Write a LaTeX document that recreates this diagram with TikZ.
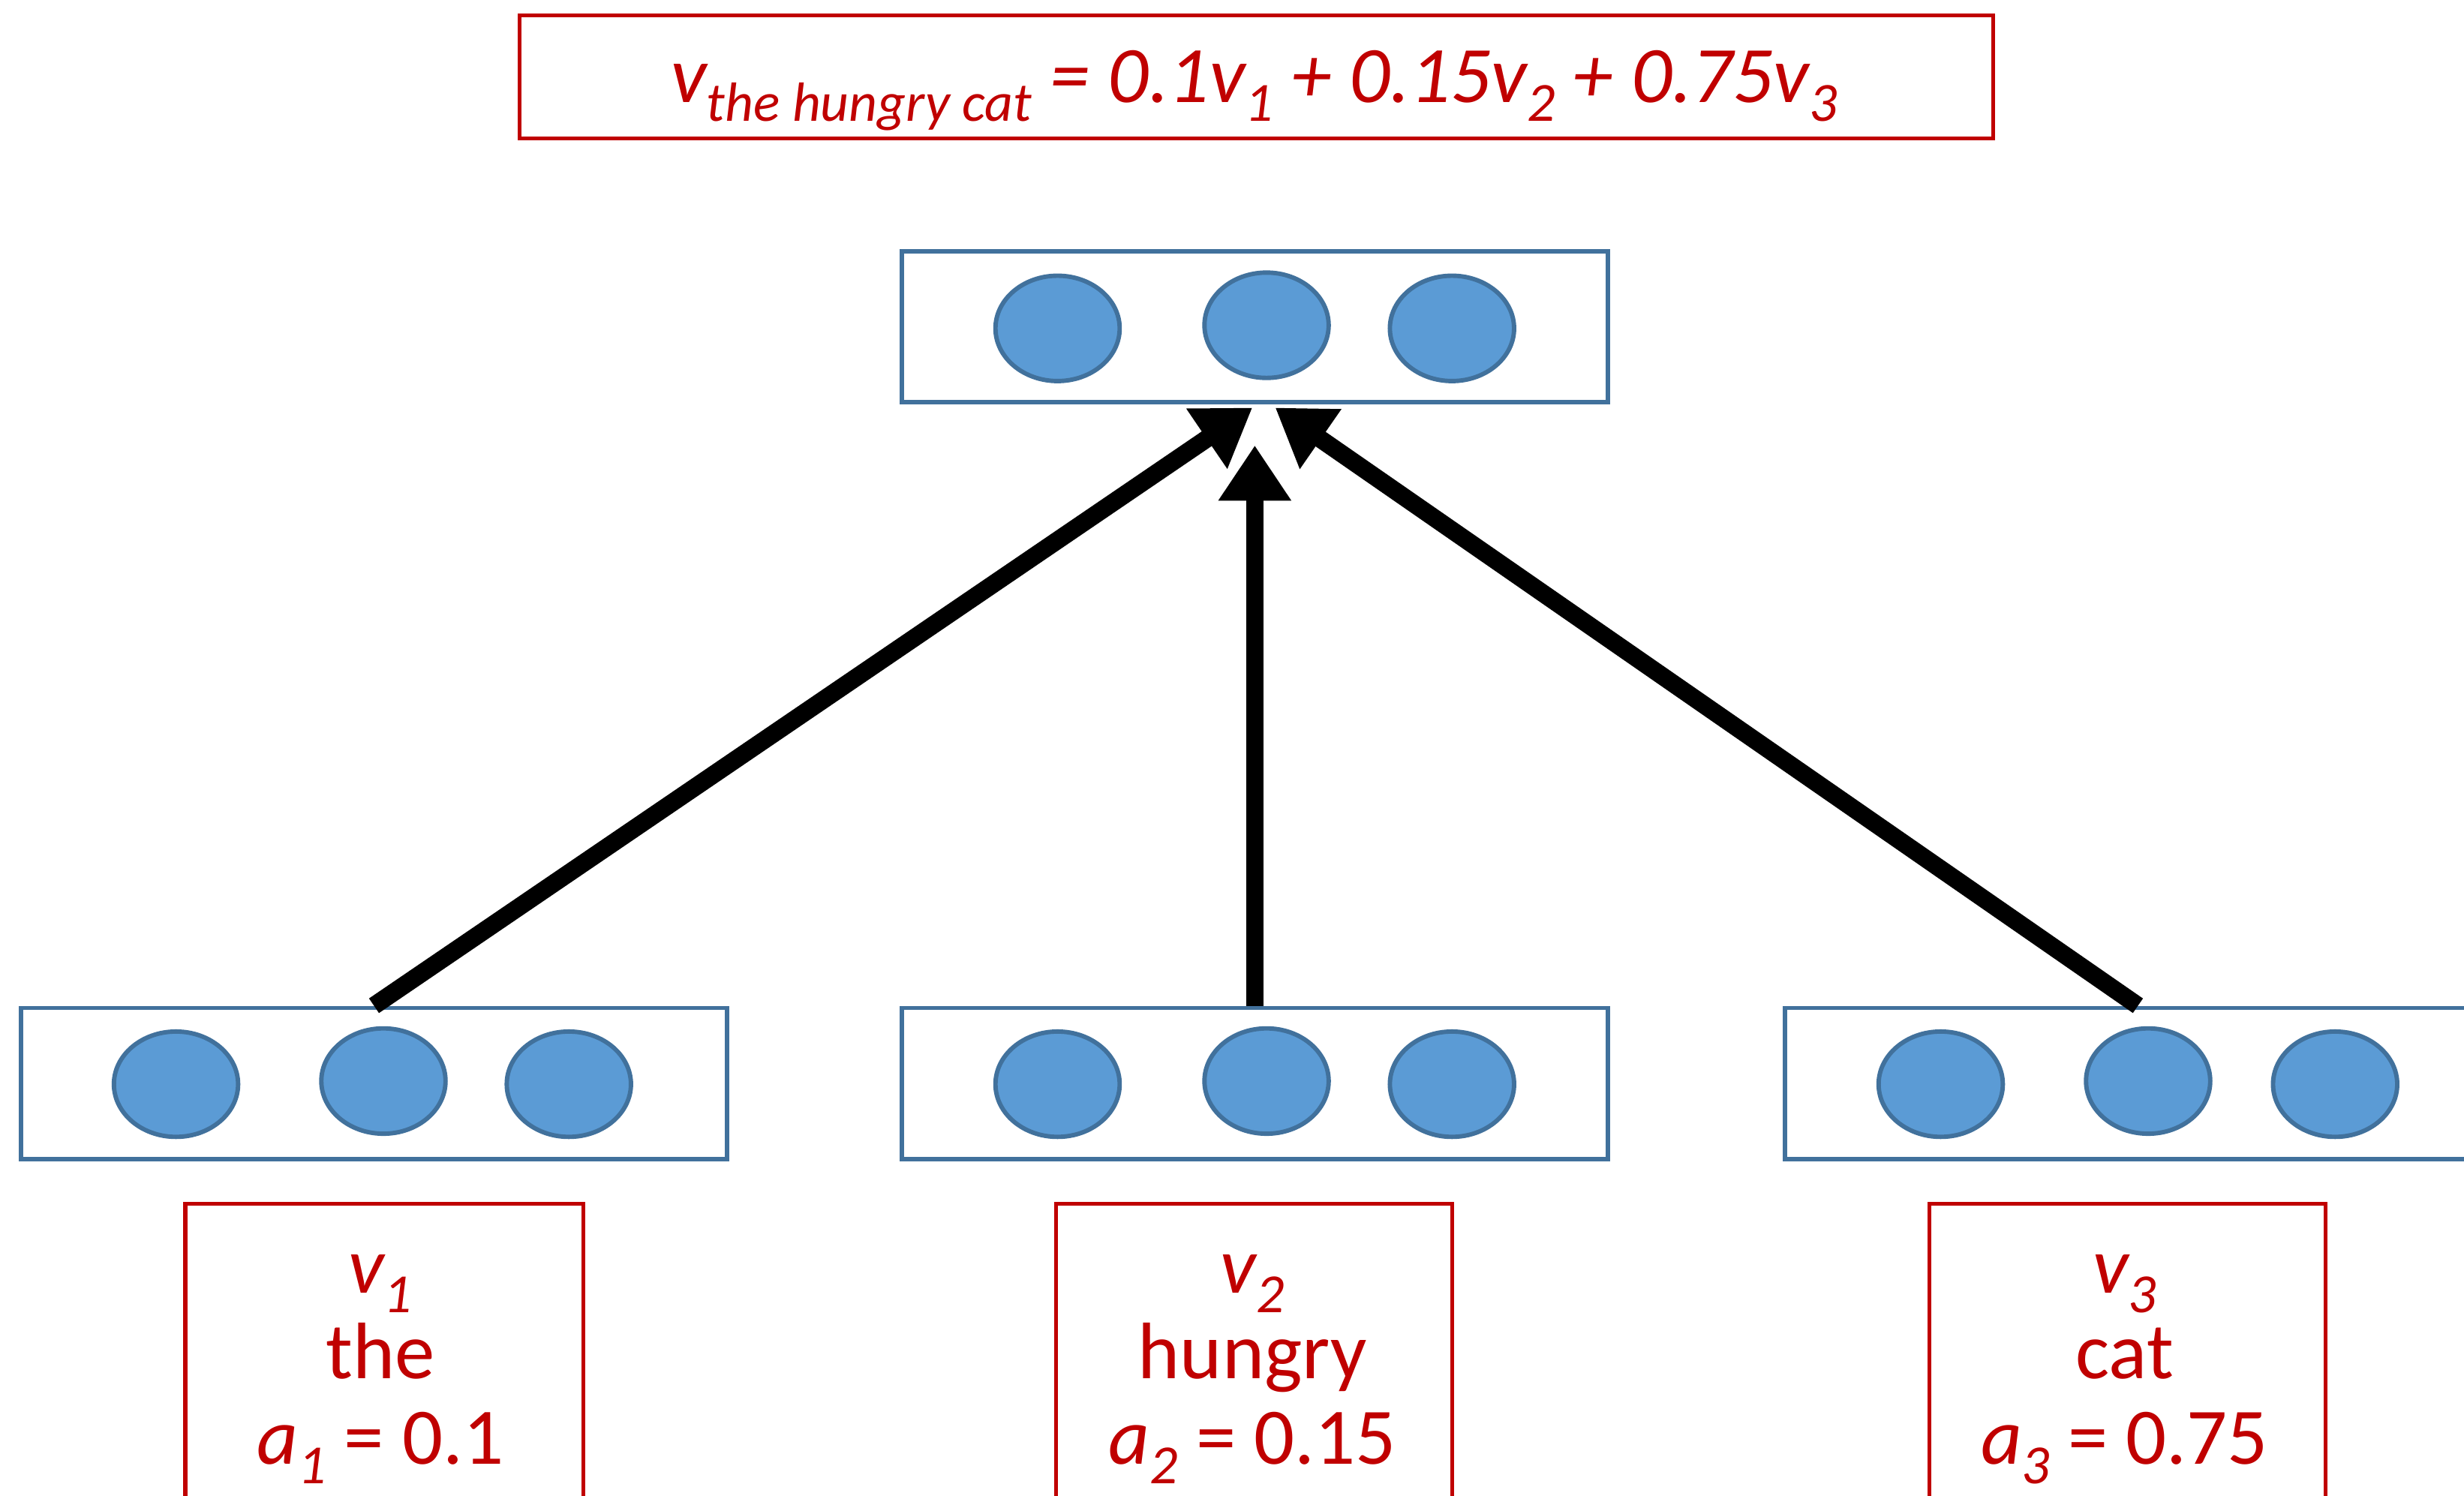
\documentclass[tikz,border=0pt]{standalone}
\usepackage{fontspec}
\setmainfont{Carlito}
\usetikzlibrary{arrows.meta,shapes.geometric,calc}
\definecolor{wred}{HTML}{C00000}
\definecolor{nfill}{HTML}{5B9BD5}
\definecolor{nedge}{HTML}{41719C}
\newcommand\lo[1]{\raisebox{-0.5ex}{\fontsize{10pt}{10pt}\selectfont #1}}
\begin{document}
\begin{tikzpicture}[x=0.01cm,y=-0.01cm,
  layerbox/.style={draw=nedge,line width=0.8pt,minimum width=4.49cm,minimum height=0.96cm,inner sep=0pt},
  unit/.style={ellipse,draw=nedge,fill=nfill,line width=0.8pt,minimum width=0.79cm,minimum height=0.67cm,inner sep=0pt},
  redbox/.style={draw=wred,line width=0.7pt,inner sep=0pt},
  lbl/.style={text=wred,font=\fontsize{14.5pt}{15.5pt}\selectfont,align=center,inner sep=0pt},
  arr/.style={line width=3.2pt,-{Triangle[length=10pt,width=12.5pt]}}]
\clip (0,0) rectangle (1568,952);
\fill[white] (0,0) rectangle (1568,952);

% weighted sum
\node[redbox,minimum width=9.37cm,minimum height=0.78cm] (F) at (799.5,49) {};
\node[lbl,anchor=base] (Ftxt) at (798,65) {\itshape v\lo{the hungry cat} = 0.1v\lo{1} + 0.15v\lo{2} + 0.75v\lo{3}};

% output layer
\node[layerbox] (T) at (798.5,208) {};
\node[unit] (t1) at (673,209) {};
\node[unit] (t2) at (806,207) {};
\node[unit] (t3) at (924,209) {};

% word layers
\node[layerbox] (L) at (238,689.5) {};
\node[unit] (l1) at (112,690) {};
\node[unit] (l2) at (244,688) {};
\node[unit] (l3) at (362,690) {};

\node[layerbox] (M) at (798.5,689.5) {};
\node[unit] (m1) at (673,690) {};
\node[unit] (m2) at (806,688) {};
\node[unit] (m3) at (924,690) {};

\node[layerbox] (R) at (1360.5,689.5) {};
\node[unit] (r1) at (1235,690) {};
\node[unit] (r2) at (1367,688) {};
\node[unit] (r3) at (1486,690) {};

% word labels
\node[redbox,minimum width=2.53cm,minimum height=2.6cm,anchor=north] (LB) at (244.5,765) {};
\node[redbox,minimum width=2.52cm,minimum height=2.6cm,anchor=north] (MB) at (798,765) {};
\node[redbox,minimum width=2.52cm,minimum height=2.6cm,anchor=north] (RB) at (1354,765) {};

\node[lbl,anchor=base] (LT) at (242,932) {\textit{v\lo{1}}\\the\\\textit{a\lo{1}} = 0.1};
\node[lbl,anchor=base] (MT) at (797,932) {\textit{v\lo{2}}\\hungry\\\textit{a\lo{2}} = 0.15};
\node[lbl,anchor=base] (RT) at (1352,932) {\textit{v\lo{3}}\\cat\\\textit{a\lo{3}} = 0.75};

% connections
\draw[arr] (L.north) -- ($(T.south)+(-1.5,2)$);
\draw[arr] (M.north) -- ($(T.south)+(0,26)$);
\draw[arr] (R.north) -- ($(T.south)+(13,2)$);
\end{tikzpicture}
\end{document}
